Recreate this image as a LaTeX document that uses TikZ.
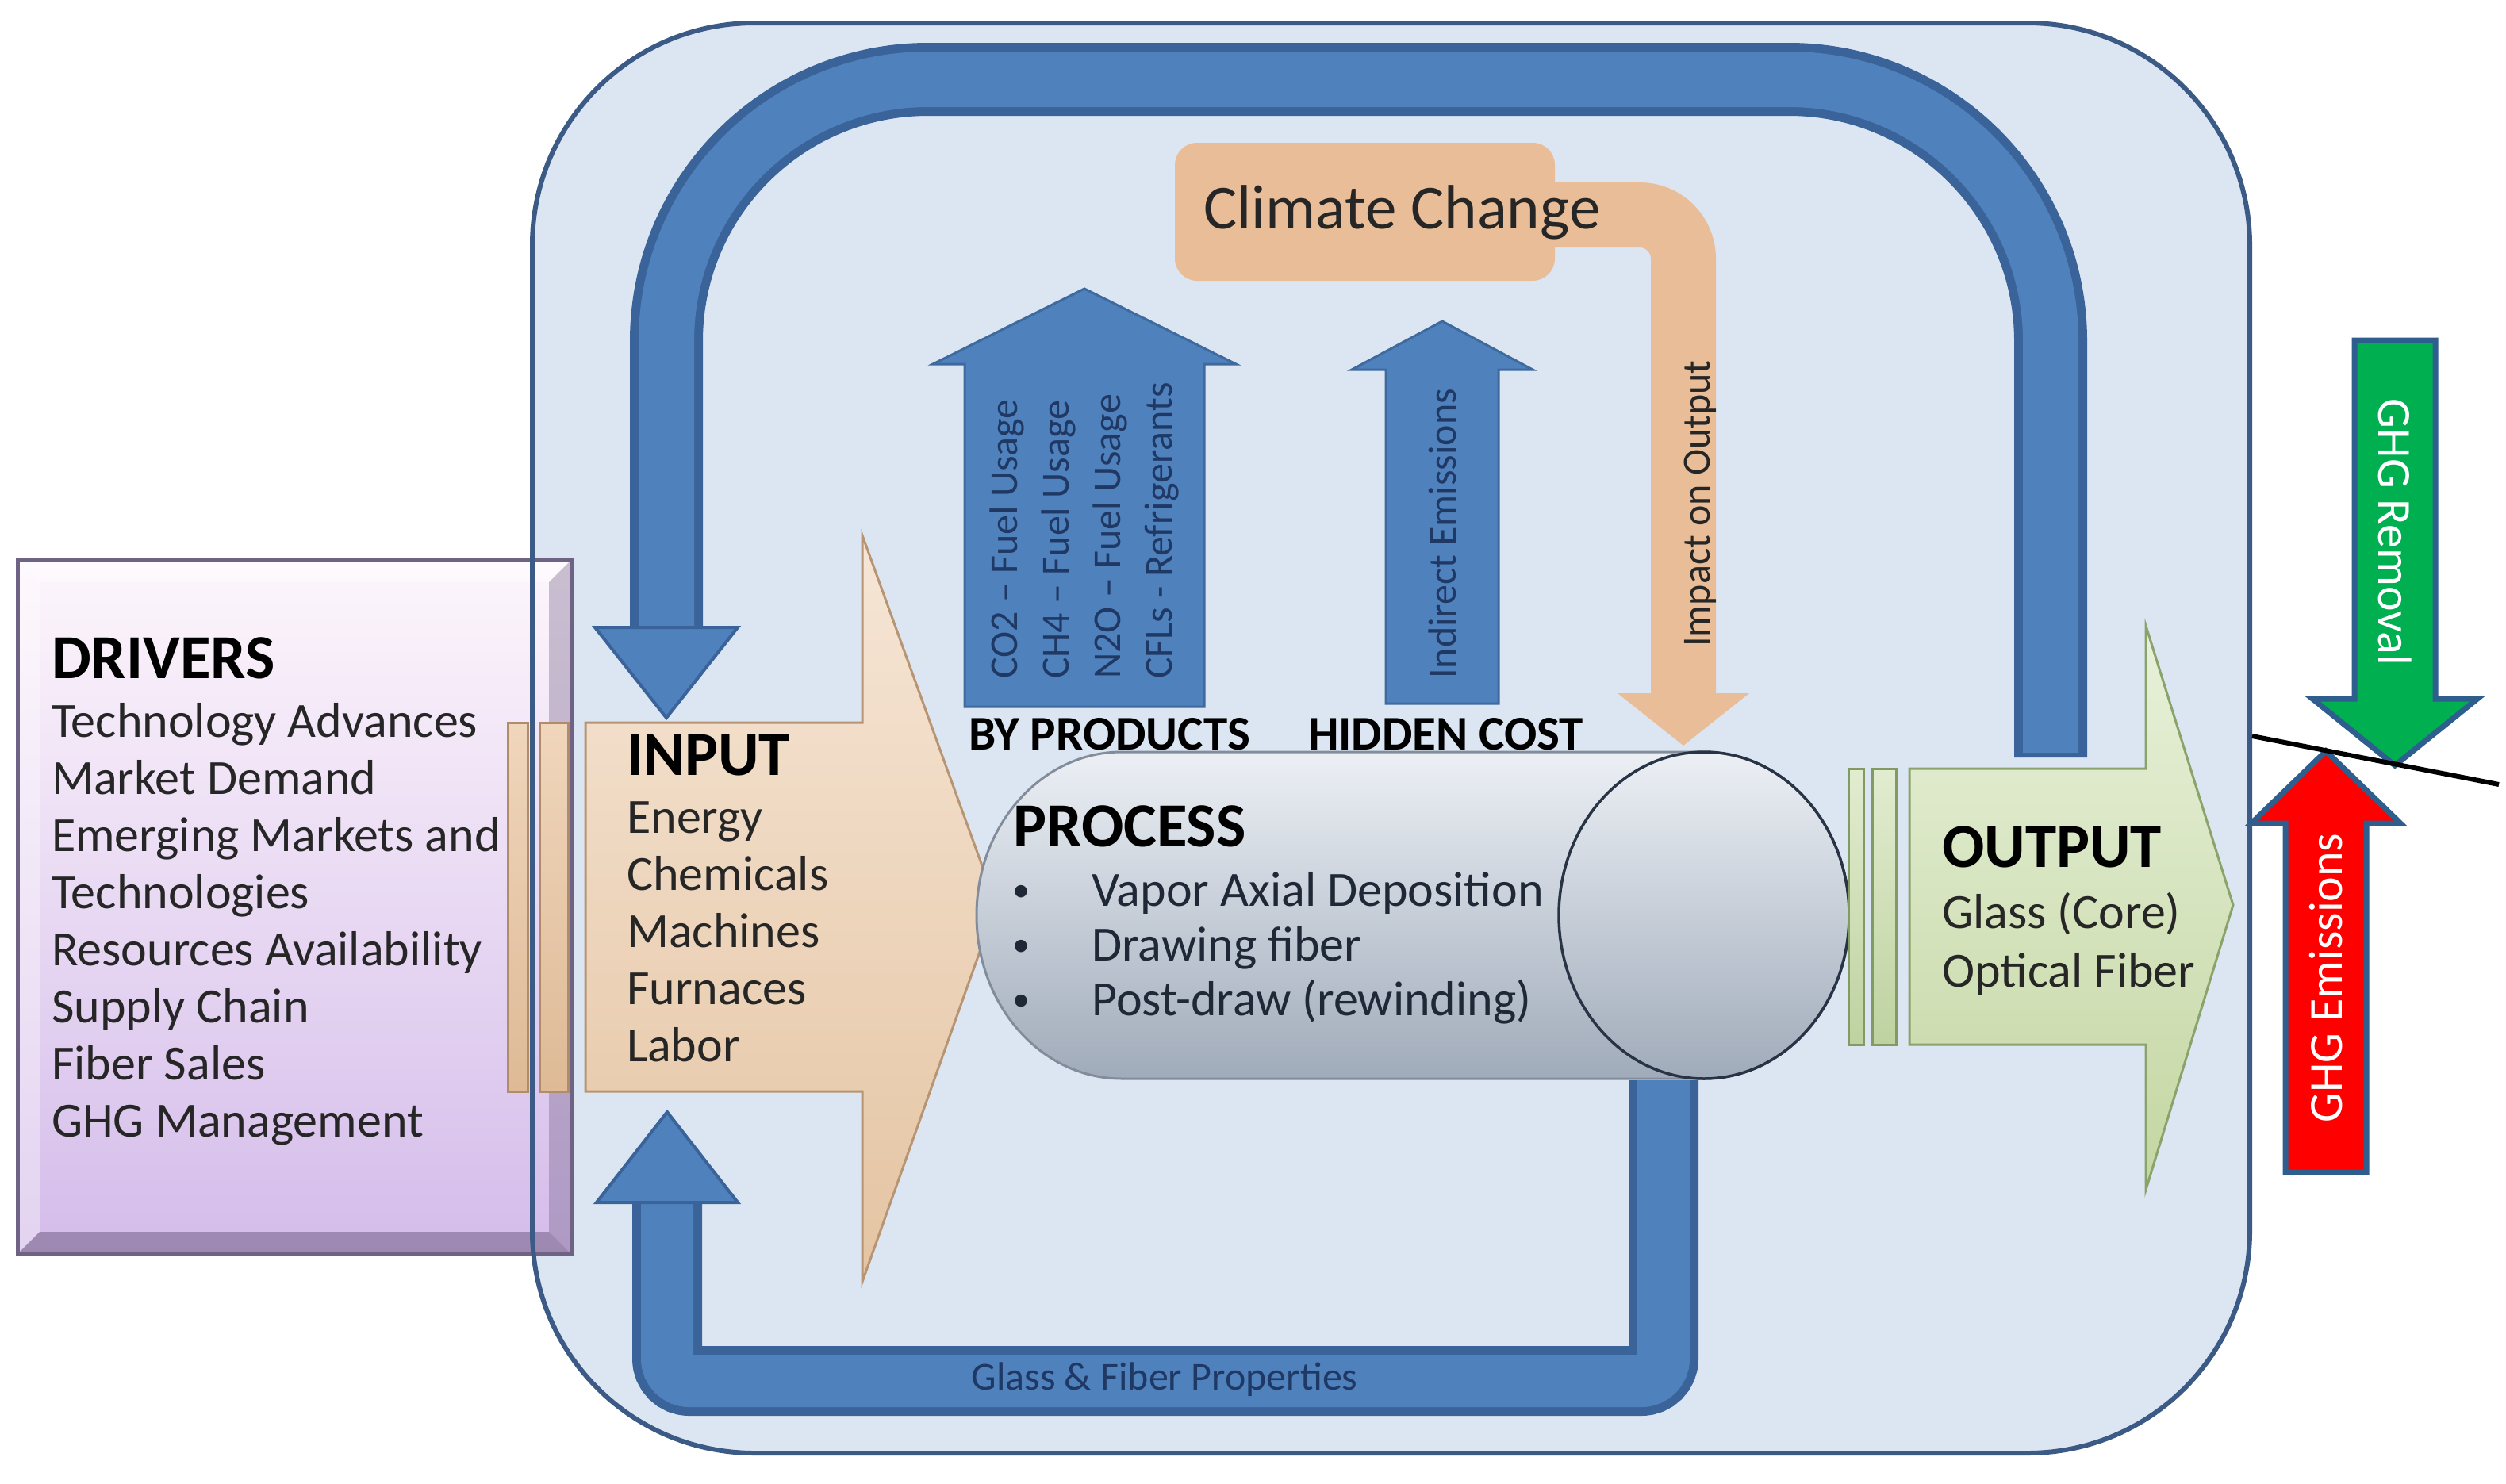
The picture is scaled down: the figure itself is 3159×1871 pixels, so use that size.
\documentclass[tikz,border=0pt]{standalone}
\usepackage{fontspec}
\setmainfont{Carlito}
\usetikzlibrary{calc}
\definecolor{boxfill}{HTML}{DCE6F2}
\definecolor{boxline}{HTML}{3B5A85}
\definecolor{bandmid}{HTML}{4F81BD}
\definecolor{banddark}{HTML}{3A6399}
\definecolor{arrowfill}{HTML}{4F81BD}
\definecolor{arrowline}{HTML}{3E6A9E}
\definecolor{navytext}{HTML}{1F3864}
\definecolor{climate}{HTML}{E9BD97}
\definecolor{darktext}{HTML}{262626}
\definecolor{proctext}{HTML}{1E2836}
\definecolor{ghgline}{HTML}{2E5E8E}
\definecolor{ghggreen}{HTML}{00B050}
\definecolor{ghgred}{HTML}{FF0000}
\definecolor{drvtop}{HTML}{FDF6FC}
\definecolor{drvbot}{HTML}{D4BCEA}
\definecolor{drvline}{HTML}{6E6384}
\definecolor{drvright}{HTML}{6B5A80}
\definecolor{drvbottom}{HTML}{5B4A70}
\definecolor{stripetop}{HTML}{F0D6BC}
\definecolor{stripebot}{HTML}{DEBA96}
\definecolor{stripeline}{HTML}{B08C6A}
\definecolor{inptop}{HTML}{F6E6D6}
\definecolor{inpbot}{HTML}{E4C4A2}
\definecolor{inpline}{HTML}{B89572}
\definecolor{proctop}{HTML}{ECF0F5}
\definecolor{procbot}{HTML}{A0ABBA}
\definecolor{procline}{HTML}{828C9B}
\definecolor{procring}{HTML}{283446}
\definecolor{ostripetop}{HTML}{E2ECD0}
\definecolor{ostripebot}{HTML}{BED2A0}
\definecolor{ostripeline}{HTML}{829B64}
\definecolor{outtop}{HTML}{E8F1DA}
\definecolor{outbot}{HTML}{C4D6A2}
\definecolor{outline}{HTML}{8AA36A}
\tikzset{
  bodytext/.style={font=\fontsize{62}{72}\selectfont, text=darktext, inner sep=0pt, anchor=base west},
  headtext/.style={font=\bfseries\fontsize{79}{90}\selectfont, text=black, inner sep=0pt, anchor=base west},
  smalltext/.style={font=\fontsize{50}{65}\selectfont, inner sep=0pt},
  loopband/.style={line width=92pt, draw=banddark},
  loopinner/.style={line width=70pt, draw=bandmid},
  uparrow/.style={fill=arrowfill, draw=arrowline, line width=3pt, line join=miter},
  ghgarrow/.style={draw=ghgline, line width=7pt, line join=miter},
  inpstripe/.style={top color=stripetop, bottom color=stripebot, draw=stripeline, line width=3pt},
  outstripe/.style={top color=ostripetop, bottom color=ostripebot, draw=ostripeline, line width=3pt},
}
\begin{document}
\begin{tikzpicture}[x=1pt, y=-1pt]
\useasboundingbox (0,0) rectangle (3159,1871);
\fill[white] (0,0) rectangle (3159,1871);

% outer container fill
\fill[boxfill, rounded corners=280pt] (671,29) rectangle (2836,1832);

% top feedback loop
\coordinate (tl1) at (840,793);
\coordinate (tl2) at (840,100);
\coordinate (tl3) at (2585,100);
\coordinate (tl4) at (2585,955);
\draw[loopband, rounded corners=330pt] (tl1) -- (tl2) -- (tl3) -- (tl4);
\draw[loopinner, rounded corners=330pt] ($(tl1)+(0,-2)$) -- (tl2) -- (tl3) -- ($(tl4)+(0,-6)$);
\fill[bandmid, draw=banddark, line width=4pt] (750,791) -- (930,791) -- (840,905) -- cycle;

% climate change bent arrow
\coordinate (cc1) at (1900,271);
\coordinate (cc2) at (2122,271);
\coordinate (cc3) at (2122,876);
\draw[line width=82pt, draw=climate, rounded corners=55pt] (cc1) -- (cc2) -- (cc3);
\fill[climate] (2039,874) -- (2205,874) -- (2122,940) -- cycle;
\fill[climate] (1481,180) [rounded corners=28pt] rectangle (1960,354);
\node[font=\fontsize{79}{90}\selectfont, text=darktext, inner sep=0pt, anchor=base west] (climate) at (1517,288) {Climate Change};
\node[smalltext, rotate=90, text=darktext] (impact) at (2143,635) {Impact on Output};

% by-products and hidden-cost arrows
\draw[uparrow] (1216,891) -- (1518,891) -- (1518,459) -- (1558,459) -- (1367,364) -- (1176,459) -- (1216,459) -- cycle;
\node[smalltext, rotate=90, anchor=west, align=left, text=navytext] (byp) at (1367,856)
  {CO2 – Fuel Usage\\CH4 – Fuel Usage\\N2O – Fuel Usage\\CFLs - Refrigerants};
\draw[uparrow] (1747,887) -- (1889,887) -- (1889,466) -- (1932,466) -- (1818,405) -- (1704,466) -- (1747,466) -- cycle;
\node[smalltext, rotate=90, anchor=west, text=navytext] (indirect) at (1818,856) {Indirect Emissions};
\node[font=\bfseries\fontsize{61}{72}\selectfont, inner sep=0pt, anchor=base west] (bylabel) at (1221,945) {BY PRODUCTS};
\node[font=\bfseries\fontsize{61}{72}\selectfont, inner sep=0pt, anchor=base west] (hidlabel) at (1649,945) {HIDDEN COST};

% bottom feedback loop
\coordinate (bl1) at (2097,1362);
\coordinate (bl2) at (2097,1741);
\coordinate (bl3) at (841,1741);
\coordinate (bl4) at (841,1516);
\draw[loopband, line width=88pt, rounded corners=28pt] (bl1) -- (bl2) -- (bl3) -- (bl4);
\draw[loopinner, line width=66pt, rounded corners=28pt] (bl1) -- (bl2) -- (bl3) -- ($(bl4)+(0,2)$);
\fill[bandmid, draw=banddark, line width=4pt] (752,1516) -- (930,1516) -- (841,1402) -- cycle;
\node[smalltext, text=navytext] (glassprop) at (1468,1739) {Glass \& Fiber Properties};

% drivers box
\path[top color=drvtop, bottom color=drvbot] (22,706) rectangle (720,1581);
\fill[white, opacity=0.45] (22,706) -- (720,706) -- (692,734) -- (50,734) -- cycle;
\fill[white, opacity=0.35] (22,706) -- (50,734) -- (50,1553) -- (22,1581) -- cycle;
\fill[drvright, opacity=0.35] (720,706) -- (720,1581) -- (692,1553) -- (692,734) -- cycle;
\fill[drvbottom, opacity=0.45] (22,1581) -- (720,1581) -- (692,1553) -- (50,1553) -- cycle;
\draw[drvline, line width=5pt] (22,706) rectangle (720,1581);
\node[headtext] (drivers) at (65,855) {DRIVERS};
\foreach \t [count=\i] in {Technology Advances, Market Demand, Emerging Markets and, Technologies, Resources Availability, Supply Chain, Fiber Sales, GHG Management}
  \node[bodytext] (drv\i) at (65,{929+72*(\i-1)}) {\t};

% input stripes and arrow
\path[inpstripe] (640,911) rectangle (665,1376);
\path[inpstripe] (680,911) rectangle (716,1376);
\path[top color=inptop, bottom color=inpbot, draw=inpline, line width=3pt, line join=miter]
  (738,911) -- (1087,911) -- (1087,675) -- (1256,1141) -- (1087,1616) -- (1087,1376) -- (738,1376) -- cycle;
\node[headtext] (input) at (790,977) {INPUT};
\foreach \t [count=\i] in {Energy, Chemicals, Machines, Furnaces, Labor}
  \node[bodytext] (inp\i) at (790,{1050+72*(\i-1)}) {\t};

% process cylinder
\path[top color=proctop, bottom color=procbot, draw=procline, line width=3pt]
  (1414,948) -- (2148,948) arc[start angle=-90, end angle=90, x radius=183, y radius=206]
  -- (1414,1360) arc[start angle=90, end angle=270, x radius=183, y radius=206] -- cycle;
\draw[procring, line width=3.5pt] (2148,1154) ellipse[x radius=183, y radius=206];
\node[headtext] (process) at (1277,1067) {PROCESS};
\foreach \t [count=\i] in {Vapor Axial Deposition, Drawing fiber, Post-draw (rewinding)} {
  \node[font=\fontsize{44}{50}\selectfont, text=proctext, inner sep=0pt, anchor=base west] (pb\i) at (1276,{1136+69*(\i-1)}) {•};
  \node[bodytext, text=proctext] (pt\i) at (1376,{1142+69*(\i-1)}) {\t};
}

% output stripes and arrow
\path[outstripe] (2330,969) rectangle (2349,1317);
\path[outstripe] (2360,969) rectangle (2390,1317);
\path[top color=outtop, bottom color=outbot, draw=outline, line width=3pt, line join=miter]
  (2407,969) -- (2705,969) -- (2705,789) -- (2815,1141) -- (2705,1500) -- (2705,1317) -- (2407,1317) -- cycle;
\node[headtext] (output) at (2448,1093) {OUTPUT};
\node[bodytext] (out1) at (2448,1170) {Glass (Core)};
\node[bodytext] (out2) at (2448,1244) {Optical Fiber};

% outer container border
\draw[boxline, line width=6pt, rounded corners=280pt] (671,29) rectangle (2836,1832);

% GHG arrows
\draw[ghgarrow, fill=ghggreen] (2968,429) -- (3070,429) -- (3070,881) -- (3123,881) -- (3019,965) -- (2915,881) -- (2968,881) -- cycle;
\node[font=\fontsize{60}{70}\selectfont, text=white, inner sep=0pt, rotate=-90] (ghgrem) at (3019,671) {GHG Removal};
\draw[ghgarrow, fill=ghgred] (2881,1478) -- (2983,1478) -- (2983,1038) -- (3026,1038) -- (2932,947) -- (2838,1038) -- (2881,1038) -- cycle;
\node[font=\fontsize{60}{70}\selectfont, text=white, inner sep=0pt, rotate=90] (ghgem) at (2932,1233) {GHG Emissions};
\coordinate (lineA) at (2839,928);
\coordinate (lineB) at (3150,989);
\draw[black, line width=6pt] (lineA) -- (lineB);
\end{tikzpicture}
\end{document}
